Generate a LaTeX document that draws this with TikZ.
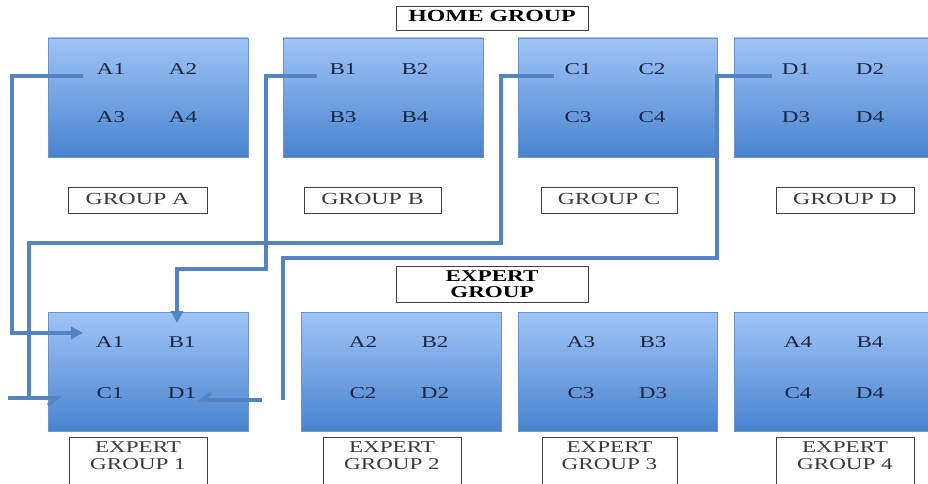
\documentclass[tikz,border=0pt]{standalone}
\usepackage{fontspec}
\setmainfont{Liberation Serif}[FakeStretch=1.4]
\usetikzlibrary{arrows.meta}
\definecolor{wirec}{HTML}{5383C2}
\definecolor{btop}{HTML}{A0C4F6}
\definecolor{bmid}{HTML}{7DA8E6}
\definecolor{bbot}{HTML}{4883CF}
\definecolor{bedge}{HTML}{6A93C8}
\definecolor{itemtxt}{HTML}{1C2540}
\definecolor{lbltxt}{HTML}{3A3A3A}
\definecolor{lbledge}{HTML}{404040}
\tikzset{
  grp/.style={draw=bedge, line width=0.6pt, top color=btop, middle color=bmid, bottom color=bbot, minimum height=119pt, inner sep=0pt},
  item/.style={font=\fontsize{16.5}{18}\selectfont, text=itemtxt, inner sep=0pt, anchor=base},
  lbl/.style={draw=lbledge, line width=0.8pt, fill=white, font=\fontsize{17}{15}\selectfont, text=lbltxt, inner xsep=0pt, minimum height=26pt, text height=11pt, text depth=3pt},
  head/.style={draw=lbledge, line width=1pt, fill=white, font=\fontsize{16.5}{16.5}\selectfont\bfseries, text=black, inner xsep=0pt, minimum width=192pt},
  elbl/.style={draw=lbledge, line width=0.8pt, fill=white, font=\fontsize{16.5}{16.5}\selectfont, text=lbltxt, inner xsep=0pt, inner ysep=3pt, align=center, anchor=north, text height=29pt, text depth=20pt},
  wire/.style={draw=wirec, line width=3.4pt},
  tri/.style={wire, -{Triangle[length=12pt,width=12pt]}},
  barbs/.style={wire, -{Straight Barb[harpoon,swap,length=9pt,width=14pt]}}
}
\begin{document}
\begin{tikzpicture}[x=1pt,y=-1pt]
\useasboundingbox (0,0) rectangle (928,484);
\fill[white] (0,0) rectangle (928,484);
\clip (0,0) rectangle (928,484);

% home group boxes
\node[grp, minimum width=200pt] (gA) at (148,97.5) {};
\node[grp, minimum width=200pt] (gB) at (383,97.5) {};
\node[grp, minimum width=199pt] (gC) at (617.5,97.5) {};
\node[grp, minimum width=200pt] (gD) at (834,97.5) {};

\node[item] (hA1) at (111,75) {A1};
\node[item] (hA2) at (183,75) {A2};
\node[item] (hA3) at (111,123) {A3};
\node[item] (hA4) at (183,123) {A4};
\node[item] (hB1) at (343,75) {B1};
\node[item] (hB2) at (415,75) {B2};
\node[item] (hB3) at (343,123) {B3};
\node[item] (hB4) at (415,123) {B4};
\node[item] (hC1) at (578,75) {C1};
\node[item] (hC2) at (652,75) {C2};
\node[item] (hC3) at (578,123) {C3};
\node[item] (hC4) at (652,123) {C4};
\node[item] (hD1) at (796,75) {D1};
\node[item] (hD2) at (870,75) {D2};
\node[item] (hD3) at (796,123) {D3};
\node[item] (hD4) at (870,123) {D4};

% expert group boxes
\node[grp, minimum width=200pt] (eg1) at (148,372) {};
\node[grp, minimum width=200pt] (eg2) at (401,372) {};
\node[grp, minimum width=199pt] (eg3) at (617.5,372) {};
\node[grp, minimum width=200pt] (eg4) at (834,372) {};

\node[item] (eA1) at (110,347) {A1};
\node[item] (eB1) at (182,347) {B1};
\node[item] (eC1) at (110,398) {C1};
\node[item] (eD1) at (182,398) {D1};
\node[item] (eA2) at (363,347) {A2};
\node[item] (eB2) at (435,347) {B2};
\node[item] (eC2) at (363,398) {C2};
\node[item] (eD2) at (435,398) {D2};
\node[item] (eA3) at (581,347) {A3};
\node[item] (eB3) at (653,347) {B3};
\node[item] (eC3) at (581,398) {C3};
\node[item] (eD3) at (653,398) {D3};
\node[item] (eA4) at (798,347) {A4};
\node[item] (eB4) at (870,347) {B4};
\node[item] (eC4) at (798,398) {C4};
\node[item] (eD4) at (870,398) {D4};

% labels
\node[head, minimum height=21pt, text height=12pt, text depth=5pt, font=\fontsize{17}{17}\selectfont\bfseries] (home) at (492,18.5) {HOME GROUP};
\node[lbl, minimum width=139pt] (lA) at (137.5,200) {GROUP A};
\node[lbl, minimum width=137pt] (lB) at (372.5,200) {GROUP B};
\node[lbl, minimum width=136pt] (lC) at (609,200) {GROUP C};
\node[lbl, minimum width=138pt] (lD) at (845,200) {GROUP D};
\node[head, anchor=north, align=center, inner ysep=2pt, text height=29pt, text depth=3pt] (expert) at (492,266) {EXPERT\\GROUP};
\node[elbl, minimum width=138pt] (l1) at (138,437) {EXPERT\\GROUP 1};
\node[elbl, minimum width=138pt] (l2) at (392,437) {EXPERT\\GROUP 2};
\node[elbl, minimum width=135pt] (l3) at (609.5,437) {EXPERT\\GROUP 3};
\node[elbl, minimum width=138pt] (l4) at (845,437) {EXPERT\\GROUP 4};

% connector points
\coordinate (a1s) at (83,76);
\coordinate (a1e) at (83,333);
\coordinate (b1s) at (317,76);
\coordinate (b1e) at (177,323);
\coordinate (c1s) at (554,76);
\coordinate (c1e) at (62,398);
\coordinate (c1t) at (8,398);
\coordinate (d1s) at (772,76);
\coordinate (d1v) at (283,400);
\coordinate (d1t) at (262,400);
\coordinate (d1e) at (197,400);

% connectors
\draw[tri] (a1s) -- (12,76) |- (a1e);
\draw[tri] (b1s) -- (266,76) |- (177,269) -- (b1e);
\draw[wire] (c1s) -- (501,76) |- (29,243) -- (29,398);
\draw[barbs] (c1t) -- (c1e);
\draw[wire] (d1s) -- (717,76) |- (283,258) -- (d1v);
\draw[barbs] (d1t) -- (d1e);
\end{tikzpicture}
\end{document}
